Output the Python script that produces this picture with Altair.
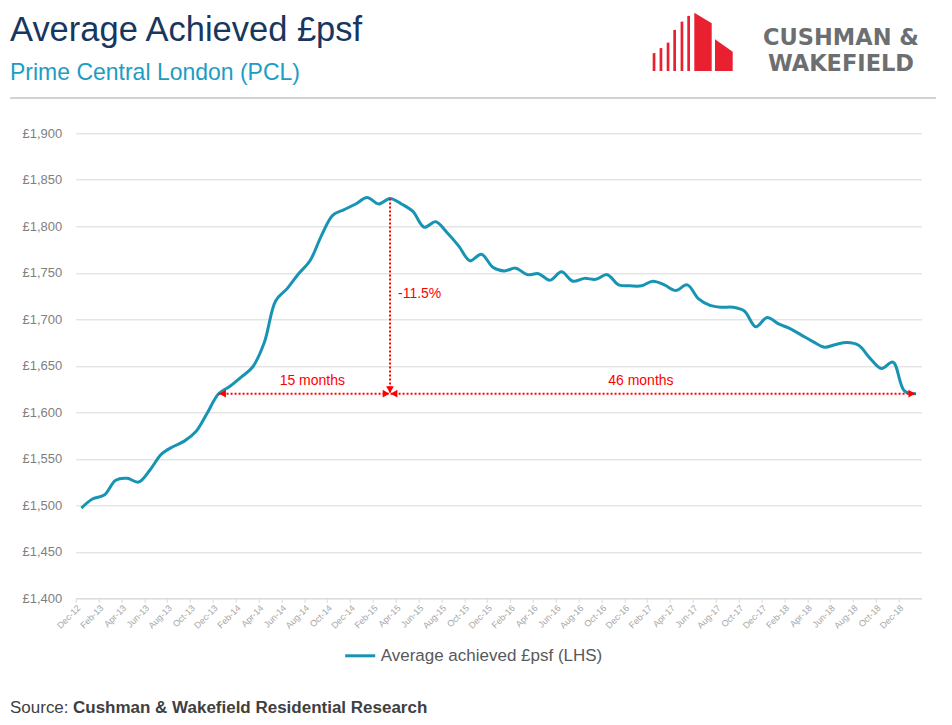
import altair as alt
import pandas as pd

# ---------------- data ----------------
months = [
    "Dec-12", "Jan-13", "Feb-13", "Mar-13", "Apr-13", "May-13", "Jun-13", "Jul-13", "Aug-13", "Sep-13", "Oct-13", "Nov-13",
    "Dec-13", "Jan-14", "Feb-14", "Mar-14", "Apr-14", "May-14", "Jun-14", "Jul-14", "Aug-14", "Sep-14", "Oct-14", "Nov-14",
    "Dec-14", "Jan-15", "Feb-15", "Mar-15", "Apr-15", "May-15", "Jun-15", "Jul-15", "Aug-15", "Sep-15", "Oct-15", "Nov-15",
    "Dec-15", "Jan-16", "Feb-16", "Mar-16", "Apr-16", "May-16", "Jun-16", "Jul-16", "Aug-16", "Sep-16", "Oct-16", "Nov-16",
    "Dec-16", "Jan-17", "Feb-17", "Mar-17", "Apr-17", "May-17", "Jun-17", "Jul-17", "Aug-17", "Sep-17", "Oct-17", "Nov-17",
    "Dec-17", "Jan-18", "Feb-18", "Mar-18", "Apr-18", "May-18", "Jun-18", "Jul-18", "Aug-18", "Sep-18", "Oct-18", "Nov-18",
    "Dec-18", "Jan-19",
]
psf = [
    1497, 1507, 1511, 1527, 1529, 1525, 1538, 1555, 1563, 1569, 1579, 1599,
    1620, 1628, 1638, 1649, 1675, 1720, 1733, 1749, 1763, 1790, 1812, 1818,
    1824, 1831, 1824, 1830, 1824, 1816, 1799, 1805, 1793, 1779, 1763, 1770,
    1756, 1752, 1755, 1748, 1749, 1742, 1751, 1741, 1744, 1743, 1748, 1737,
    1736, 1736, 1741, 1737, 1731, 1737, 1722, 1715, 1713, 1713, 1709, 1692,
    1702, 1695, 1690, 1683, 1676, 1670, 1673, 1675, 1672, 1658, 1647, 1654,
    1623, 1620,
]
tick_labels = [
    "Dec-12", "Feb-13", "Apr-13", "Jun-13", "Aug-13", "Oct-13", "Dec-13", "Feb-14", "Apr-14", "Jun-14",
    "Aug-14", "Oct-14", "Dec-14", "Feb-15", "Apr-15", "Jun-15", "Aug-15", "Oct-15", "Dec-15", "Feb-16",
    "Apr-16", "Jun-16", "Aug-16", "Oct-16", "Dec-16", "Feb-17", "Apr-17", "Jun-17", "Aug-17", "Oct-17",
    "Dec-17", "Feb-18", "Apr-18", "Jun-18", "Aug-18", "Oct-18", "Dec-18",
]
y_ticks = [1400, 1450, 1500, 1550, 1600, 1650, 1700, 1750, 1800, 1850, 1900]
series_name = "Average achieved £psf (LHS)"

start_month, peak_month, end_month = "Dec-13", "Mar-15", "Jan-19"
label_left, label_right, label_drop = "15 months", "46 months", "-11.5%"

title_text = "Average Achieved £psf"
subtitle_text = "Prime Central London (PCL)"
source_label = "Source: "
source_text = "Cushman & Wakefield Residential Research"
logo_line1, logo_line2 = "CUSHMAN &", "WAKEFIELD"

# ---------------- styles ----------------
FONT = "Liberation Sans, Arial, sans-serif"
TEAL = "#1794b4"
RED = "#ff0000"
GRID = "#d9d9d9"

W, H = 845.8, 465
PAD = {"left": 67.7, "top": 125.3, "right": 14, "bottom": 118}

df = pd.DataFrame({"month": months, "psf": psf, "series": series_name})
df["pos"] = df.index + 0.5

i_s, i_p, i_e = months.index(start_month), months.index(peak_month), months.index(end_month)
v_s, v_p, v_e = psf[i_s], psf[i_p], psf[i_e]

label_expr = "[" + ",".join("'%s'" % t for t in tick_labels) + "][round(datum.value/2)]"
x_tick_values = list(range(0, 2 * len(tick_labels), 2))

xscale = alt.Scale(domain=[0, len(months)], nice=False, zero=False)
yscale = alt.Scale(domain=[y_ticks[0], y_ticks[-1]], nice=False, zero=False)

line = alt.Chart(df).mark_line(interpolate="catmull-rom", strokeWidth=3).encode(
    x=alt.X("pos:Q", scale=xscale, title=None,
            axis=alt.Axis(values=x_tick_values, tickCount=len(x_tick_values) + 10, labelExpr=label_expr,
                          labelAngle=-45, labelAlign="right", labelBaseline="top",
                          labelFontSize=9, labelColor="#a6a6a6", labelFont=FONT,
                          tickSize=4, tickColor=GRID, domainColor=GRID, grid=False,
                          labelPadding=1, labelOverlap=False, labelFlush=False)),
    y=alt.Y("psf:Q", scale=yscale, title=None,
            axis=alt.Axis(values=y_ticks, tickCount=len(y_ticks) + 5,
                          labelExpr="'£' + format(datum.value, ',')",
                          labelFontSize=13, labelColor="#7f7f7f", labelFont=FONT,
                          ticks=False, tickSize=0, domain=False, grid=True, gridColor=GRID,
                          labelPadding=14)),
    color=alt.Color("series:N", scale=alt.Scale(range=[TEAL]),
                    legend=alt.Legend(title=None, orient="none", legendX=268, legendY=506,
                                      symbolType="stroke", symbolSize=900, symbolStrokeWidth=3,
                                      labelFontSize=17, labelColor="#595959", labelFont=FONT,
                                      labelOffset=4, labelLimit=500, padding=0)),
)

# ---------------- annotations ----------------
hdf = pd.DataFrame({"x": [i_s + 0.5], "x2": [i_e + 0.5], "y": [v_e]})
hrule = alt.Chart(hdf).mark_rule(color=RED, strokeWidth=2, strokeDash=[2, 2]).encode(
    x=alt.X("x:Q", scale=xscale), x2="x2:Q", y=alt.Y("y:Q", scale=yscale))
vdf = pd.DataFrame({"x": [i_p + 0.5], "y": [v_p], "y2": [v_e]})
vrule = alt.Chart(vdf).mark_rule(color=RED, strokeWidth=2, strokeDash=[2, 2]).encode(
    x=alt.X("x:Q", scale=xscale), y=alt.Y("y:Q", scale=yscale), y2="y2:Q")

left_arrows = alt.Chart(pd.DataFrame({"x": [i_s + 0.5, i_p + 0.5], "y": [v_e, v_e]})).mark_point(
    shape="triangle-left", filled=True, opacity=1, color=RED, size=60, xOffset=4).encode(
    x=alt.X("x:Q", scale=xscale), y=alt.Y("y:Q", scale=yscale))
right_arrows = alt.Chart(pd.DataFrame({"x": [i_p + 0.5, i_e + 0.5], "y": [v_e, v_e]})).mark_point(
    shape="triangle-right", filled=True, opacity=1, color=RED, size=60, xOffset=-4).encode(
    x=alt.X("x:Q", scale=xscale), y=alt.Y("y:Q", scale=yscale))
down_arrow = alt.Chart(pd.DataFrame({"x": [i_p + 0.5], "y": [v_e]})).mark_point(
    shape="triangle-down", filled=True, opacity=1, color=RED, size=60, yOffset=-4).encode(
    x=alt.X("x:Q", scale=xscale), y=alt.Y("y:Q", scale=yscale))

t_left = alt.Chart(pd.DataFrame({"x": [(i_s + i_p) / 2 + 0.5], "y": [v_e], "t": [label_left]})).mark_text(
    color=RED, fontSize=14, font=FONT, baseline="bottom", dy=-6, dx=8).encode(
    x=alt.X("x:Q", scale=xscale), y=alt.Y("y:Q", scale=yscale), text="t:N")
t_right = alt.Chart(pd.DataFrame({"x": [(i_p + i_e) / 2 + 0.5], "y": [v_e], "t": [label_right]})).mark_text(
    color=RED, fontSize=14, font=FONT, baseline="bottom", dy=-6, dx=-12).encode(
    x=alt.X("x:Q", scale=xscale), y=alt.Y("y:Q", scale=yscale), text="t:N")
t_drop = alt.Chart(pd.DataFrame({"x": [i_p + 0.5], "y": [(v_p + v_e) / 2], "t": [label_drop]})).mark_text(
    color=RED, fontSize=14, font=FONT, align="left", baseline="middle", dx=8, dy=-2).encode(
    x=alt.X("x:Q", scale=xscale), y=alt.Y("y:Q", scale=yscale), text="t:N")

# ---------------- header, logo, footer ----------------
OX, OY = 75.7, 133.3  # page position of plot origin


def text_layer(txt, px, py, font=FONT, **kw):
    return alt.Chart(pd.DataFrame({"t": [txt]})).mark_text(font=font, **kw).encode(
        x=alt.value(px - OX), y=alt.value(py - OY), text="t:N")


title = text_layer(title_text, 10, 41, fontSize=34.5, color="#17375e", align="left", baseline="alphabetic")
subtitle = text_layer(subtitle_text, 10, 80, fontSize=23, color="#1e9cc4", align="left", baseline="alphabetic")
sep = alt.Chart(pd.DataFrame({"a": [0]})).mark_rule(color="#a6a6a6", strokeWidth=1).encode(
    x=alt.value(10 - OX), x2=alt.value(938 - OX), y=alt.value(98 - OY))

src1 = text_layer(source_label, 10, 713, fontSize=17, color="#404040", align="left", baseline="alphabetic")
src2 = text_layer(source_text, 73, 713, fontSize=17, color="#404040", fontWeight="bold", align="left",
                  baseline="alphabetic")

logo1 = text_layer(logo_line1, 841, 44.8, font="DejaVu Sans", fontWeight="bold", fontSize=22.5,
                   color="#6d6e70", align="center", baseline="alphabetic")
logo2 = text_layer(logo_line2, 841, 71.3, font="DejaVu Sans", fontWeight="bold", fontSize=22.5,
                   color="#6d6e70", align="center", baseline="alphabetic")

# logo mark drawn as one custom symbol path
LCX, LCY, LS = 692.7, 42.0, 41.0


def _pt(x, y):
    return "%.4f,%.4f" % ((x - LCX) / LS, (y - LCY) / LS)


polys = []
for bx, top in zip([652.7, 659.6, 666.7, 673.3, 680.6, 687.3], [53.3, 48.3, 42.7, 30.0, 21.7, 16.0]):
    polys.append([(bx, top), (bx + 2.7, top - 0.3), (bx + 2.7, 71), (bx, 71)])
polys.append([(694.3, 12.7), (711.7, 23.3), (711.7, 71), (694.3, 71)])
polys.append([(715.0, 39.3), (732.7, 51.7), (732.7, 71), (715.0, 71)])
logo_path = " ".join("M" + " L".join(_pt(x, y) for x, y in p) + " Z" for p in polys)

logo_mark = alt.Chart(pd.DataFrame({"a": [0]})).mark_point(
    shape=logo_path, filled=True, opacity=1, color="#e8202f", strokeWidth=0, size=(2 * LS) ** 2).encode(
    x=alt.value(LCX - OX), y=alt.value(LCY - OY))

chart = alt.layer(
    line, hrule, vrule, left_arrows, right_arrows, down_arrow, t_left, t_right, t_drop,
    title, subtitle, sep, src1, src2, logo1, logo2, logo_mark,
).properties(
    width=W, height=H, padding=PAD, autosize=alt.AutoSizeParams(type="none"), background="white",
).configure_view(stroke=None)

chart.save("out.html", embed_options={"renderer": "svg", "actions": False})
